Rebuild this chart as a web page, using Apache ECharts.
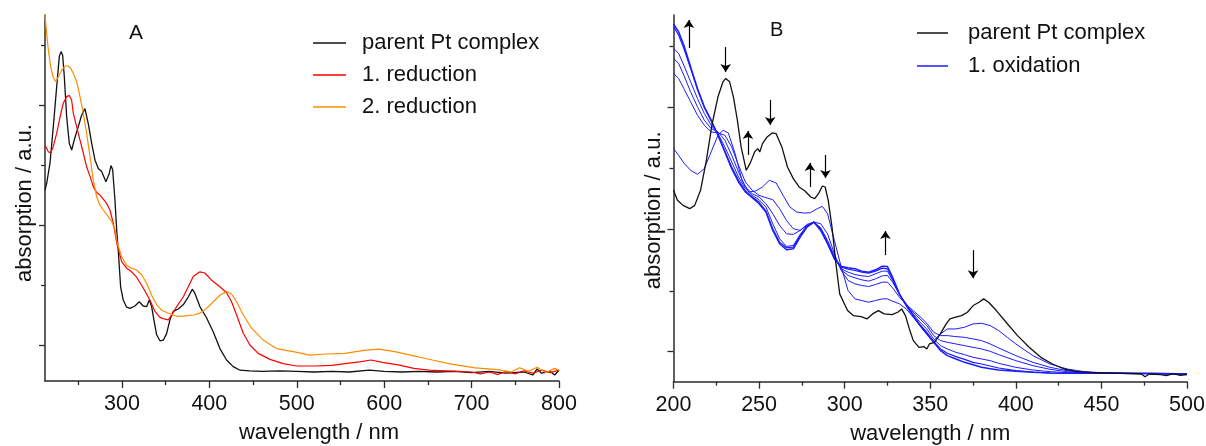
<!DOCTYPE html>
<html>
<head>
<meta charset="utf-8">
<script src="https://cdn.jsdelivr.net/npm/echarts@6.0.0/dist/echarts.min.js"></script>
<style>
  html, body { margin: 0; padding: 0; background: #fff; }
  #chart { width: 1206px; height: 446px; }
</style>
</head>
<body>
<div id="chart"></div>
<script>
// panel A: UV-vis of parent complex and its reductions (absorption, a.u.)
var parentA = [[212,0.458],[214,0.47],[217.7,0.503],[221.5,0.564],[225.4,0.631],[228.4,0.681],[230.3,0.689],[232.2,0.683],[234.1,0.647],[236.8,0.58],[239.8,0.536],[242.5,0.525],[245.5,0.542],[250.1,0.564],[253.9,0.583],[257.7,0.594],[259.6,0.592],[261.5,0.569],[265.4,0.536],[269.2,0.508],[273,0.494],[276.8,0.489],[281.7,0.472],[285.5,0.486],[287.5,0.499],[289.4,0.492],[292,0.442],[294,0.392],[295.8,0.358],[298.5,0.297],[301.5,0.275],[305.4,0.263],[309.2,0.261],[314.9,0.265],[319.8,0.272],[324.4,0.265],[328.3,0.264],[331.3,0.275],[334,0.264],[336.6,0.242],[339.7,0.217],[343.5,0.207],[347.3,0.208],[351.1,0.219],[354.9,0.242],[358.7,0.256],[364.4,0.26],[370.1,0.267],[375.9,0.28],[380.5,0.293],[383.5,0.286],[389.2,0.264],[396.9,0.245],[404.4,0.222],[412.1,0.194],[419.7,0.175],[427.3,0.164],[435,0.158],[446,0.157],[460,0.156],[480,0.157],[500,0.156],[520,0.155],[540,0.156],[560,0.155],[583,0.158],[600,0.156],[620,0.155],[640,0.156],[660,0.155],[680,0.156],[700,0.154],[720,0.156],[740,0.153],[760,0.155],[770,0.15],[775,0.16],[780,0.153],[790,0.156],[795,0.15],[800,0.158]];
var red1A = [[212,0.533],[215.8,0.522],[218.5,0.52],[221.5,0.531],[225.4,0.553],[229.2,0.58],[232.9,0.603],[236.8,0.614],[239.8,0.616],[242.5,0.608],[244.4,0.586],[248.2,0.564],[252,0.542],[255.8,0.52],[259.6,0.497],[263.5,0.481],[267.2,0.464],[271.1,0.454],[274.9,0.45],[278.7,0.443],[282.5,0.436],[286.3,0.425],[290.1,0.403],[294,0.37],[299.7,0.339],[305.4,0.328],[311.1,0.322],[316.8,0.313],[324.4,0.295],[332,0.275],[337.8,0.256],[343.5,0.246],[349.2,0.243],[353,0.242],[356.9,0.25],[362.6,0.264],[370.1,0.28],[375.9,0.297],[381.6,0.314],[389.2,0.322],[394.9,0.32],[402.5,0.308],[412.1,0.297],[419.7,0.287],[425.4,0.272],[431.2,0.25],[438.7,0.22],[446.4,0.2],[455.9,0.186],[469.3,0.176],[484.5,0.169],[500,0.165],[520,0.165],[540,0.166],[555,0.169],[572,0.172],[585,0.175],[598,0.171],[616,0.167],[634,0.161],[651,0.158],[670,0.157],[686,0.156],[700,0.155],[710,0.152],[720,0.155],[730,0.151],[740,0.156],[750,0.152],[760,0.157],[770,0.153],[780,0.158],[790,0.154],[800,0.158]];
var red2A = [[212,0.75],[213.9,0.719],[215.8,0.692],[218.5,0.664],[221.5,0.645],[224.6,0.639],[227.2,0.647],[231.1,0.658],[234.9,0.665],[238.6,0.665],[241.4,0.661],[244.4,0.653],[248.2,0.639],[252,0.614],[255.8,0.586],[259.6,0.553],[263.5,0.514],[267.2,0.475],[271.1,0.447],[274.9,0.433],[278.7,0.425],[284.4,0.414],[288.3,0.406],[292,0.392],[294.7,0.37],[299.7,0.347],[305.4,0.333],[311.1,0.328],[316.8,0.325],[322.5,0.317],[328.3,0.303],[334,0.283],[339.7,0.267],[345.4,0.258],[353,0.253],[362.6,0.248],[370.1,0.248],[381.6,0.25],[389.2,0.253],[396.9,0.261],[404.5,0.272],[412.1,0.283],[419.7,0.289],[425.4,0.285],[431.2,0.272],[438.8,0.25],[448.3,0.228],[461.7,0.208],[476.9,0.194],[496,0.189],[515,0.183],[534,0.185],[555,0.186],[577,0.191],[594,0.193],[612,0.189],[634,0.182],[655,0.175],[677,0.168],[704,0.162],[730,0.159],[745,0.155],[755,0.162],[765,0.156],[775,0.163],[785,0.154],[795,0.161],[800,0.158]];

// panel A ticks
var ticksA_major = [300, 400, 500, 600, 700, 800];
var ticksA_minor = [250, 350, 450, 550, 650, 750];
var yTicksA_major = [0.2, 0.4, 0.6];
var yTicksA_minor = [0.3, 0.5, 0.7];

// panel B: parent complex and spectra during 1. oxidation
var parentB = [[200,63],[202.3,60],[205.6,58.5],[209.5,57.5],[212.4,58.5],[215.8,63],[219.2,72],[222.6,83],[226,91],[228.9,95.5],[230.5,96.5],[232.8,95.5],[235,91],[237.3,84],[239.5,76],[242.5,69],[244.7,71],[247.4,74.5],[249.2,75.5],[250.4,74.5],[252,77],[254.7,79],[257.6,80.2],[259.9,80],[263.3,76],[266.6,70],[270,66.5],[273.4,64],[276.8,62.8],[280.2,61],[282.5,60.5],[284.7,62],[287,64.3],[288.6,64],[290.4,60],[292.6,52],[294.9,41],[297.1,32],[299.4,29.5],[301.7,27],[305,25.5],[309.6,25.2],[313,24.5],[316.3,26],[319.7,27],[323.1,26],[327.6,25.8],[331,26.5],[333.3,27.5],[335.5,25.5],[337.8,21.5],[340.1,18],[343.4,16],[346.4,16.2],[348,15.5],[349.5,17],[352.5,17.5],[355.9,20],[359.3,23],[361.5,24.5],[364.9,25],[368.3,25.5],[371.7,26.5],[375.1,28.5],[378.5,29.5],[381.2,30.5],[384.1,29.5],[388.6,27],[394.3,23.5],[401,19.5],[407.8,16],[414.6,13],[421.4,11],[428.2,9.5],[434.9,8.8],[444,8.5],[450.7,8.3],[462,8.2],[473.3,8],[475.5,7.2],[478,8],[484.7,7.8],[488,7.5],[492,8.1],[496,7.6],[500,7.8]];
var ox1 = [[200,75.5],[203,73.5],[206,71.2],[210,69],[214,67.8],[218,69.5],[222,74.5],[226,79.5],[229,81],[232,80.2],[236,74],[240,66],[244,62.5],[248,62.8],[252,64],[256,66],[260,65.2],[264,61.5],[268,58],[272,56.5],[276,56.2],[280,56.3],[284,57.5],[287,58.2],[290,56],[294,48],[298,40],[302,33],[306,30.5],[310,30],[314,29.5],[318,30],[322,30.5],[325,30.5],[328,29.8],[332,29],[336,27.5],[340,25],[344,22.5],[348,20],[352,18],[356,20],[360,21.5],[365,21.5],[370,22],[375,23],[380,23.2],[385,22.5],[390,21],[395,19],[400,17],[410,13.5],[420,11],[430,9.5],[440,8.7],[450,8.4],[470,8.2],[500,8]];
var wlOx = [200,203,206,210,214,218,222,226,230,234,238,242,246,250,254,258,262,266,270,274,278,282,286,290,294,298,302,306,310,314,318,322,325,328,332,336,340,344,348,352,356,360,365,370,375,380,385,390,400,410,420,430,440,460,480,500];
var ox2 = [98,96.5,93.5,89.5,85.5,82.5,80.5,80.2,79.5,76,70.5,65.5,63,61.5,60.8,60.2,57.5,54,51.5,51,52.5,53.5,53,50,44,39,36,35,34.5,34.2,34.8,35.5,35.5,33.8,31,28.8,27,25.2,23.2,20.5,19.5,19.5,19.2,19,18.5,18,17,15.8,13.5,11.5,10,9,8.4,8.2,8.1,8];
var ox3 = [102.5,101,97.5,92.5,88,84,81.5,80.5,78,73.5,68.5,64,62,61,59,56,52.5,50,49.8,51,52.8,53.5,51.8,48,43.2,39.2,37.5,36.8,36.2,35.8,36.5,37.4,37.5,35.5,31.8,29,26.5,24.5,22.5,19.5,18,17.5,17,16.5,16,15.5,14.8,13.8,12,10.5,9.4,8.7,8.3,8.2,8.1,8];
var ox4 = [105.5,104,100.5,95.5,90.5,86,82.5,80,76,71.5,67,63.5,61.5,60.2,58,53,48.5,46.2,46.5,49.8,52.4,53.5,51.5,47.5,43,39.5,38.5,37.8,37.4,37.2,38,38.8,38.8,36,31.8,28.8,26,23.5,21.5,18.5,16.5,15.5,14.5,13.8,13,12.5,12,11.2,10,9.2,8.7,8.4,8.2,8.2,8.1,8];
var ox5 = [112,109.5,105.5,99.5,93.2,87.8,83.8,79.5,74.8,70,66,62.8,61,59.5,56.8,51.5,47.5,45.8,46,49.5,52.2,53.5,51.2,47.2,42.5,40,39.4,39,38.5,38.2,38.8,39.7,39.5,36.5,31.8,28.5,25.5,22.8,20.5,17.8,15.5,14.2,13.2,12.4,11.5,11,10.4,9.8,9,8.6,8.3,8.2,8.2,8.2,8.1,8];
var ox6 = [112.8,110.5,106.5,100,93.5,88,84,79.5,74.5,69.5,65.5,62.5,60.8,59,56.5,51,47,45.2,45.5,49,52,53.5,51,47,42.5,40.2,39.8,39.5,38.8,38.5,39.2,40.3,40.2,37,32,28.5,25.5,22.5,20,17.5,15,13.5,12.5,11.5,10.8,10,9.6,9.2,8.8,8.5,8.3,8.2,8.2,8.2,8.2,8];

// arrows in panel B: [wavelength, from, to]
var arrowsB = [[209,105.6,114],[230.5,105.9,98.4],[243.5,73.6,80.8],[256.5,90.1,82.6],[279.7,64,71.2],[288.8,73.6,66.7],[323.8,43.6,50.8],[375,45.1,36.7]];

var yTicksB_major = [14.7, 51.3, 87.9];
var yTicksB_minor = [32.9, 69.6, 106.2];

var FONT = 'Liberation Sans, Arial, sans-serif';
var AXIS_COLOR = '#2b2b2b';

function pairs(xs, ys) {
  return xs.map(function (x, i) { return [x, ys[i]]; });
}

function line(name, data, color, width, gi) {
  return {
    name: name, type: 'line', data: data,
    xAxisIndex: gi * 2, yAxisIndex: gi * 2,
    symbol: 'none', smooth: false,
    lineStyle: { color: color, width: width },
    itemStyle: { color: color },
    emphasis: { disabled: true }
  };
}

function xAxisCfg(gi, min, max, extra) {
  var base = {
    type: 'value', gridIndex: gi, min: min, max: max, position: 'bottom',
    axisLine: { lineStyle: { color: AXIS_COLOR, width: 1.5 } },
    axisTick: { length: 7, lineStyle: { color: AXIS_COLOR, width: 1.3 } },
    axisLabel: { color: '#111', fontSize: 21.5, fontFamily: FONT, margin: 12 },
    splitLine: { show: false }
  };
  return Object.assign(base, extra);
}

function yAxisCfg(gi, min, max, ticks, len, extra) {
  var base = {
    type: 'value', gridIndex: gi, min: min, max: max, position: 'left',
    axisLine: { show: true, lineStyle: { color: AXIS_COLOR, width: 1.5 } },
    axisTick: { show: true, length: len, customValues: ticks, lineStyle: { color: AXIS_COLOR, width: 1.3 } },
    axisLabel: { show: false },
    splitLine: { show: false }
  };
  return Object.assign(base, extra || {});
}

var nameStyle = { color: '#111', fontSize: 22, fontFamily: FONT };
var legendText = { fontSize: 22, lineHeight: 22, color: '#111', fontFamily: FONT };

var myChart = echarts.init(document.getElementById('chart'));

var option = {
  animation: false,
  backgroundColor: '#fff',
  textStyle: { fontFamily: FONT },
  title: [
    { text: 'A', left: 129, top: 23, padding: 0, textStyle: { fontSize: 21, fontWeight: 'normal', color: '#111', fontFamily: FONT } },
    { text: 'B', left: 770, top: 20, padding: 0, textStyle: { fontSize: 20, fontWeight: 'normal', color: '#111', fontFamily: FONT } }
  ],
  legend: [
    {
      orient: 'vertical', left: 313, top: 32, padding: 0, selectedMode: false,
      icon: 'rect', itemWidth: 33, itemHeight: 1.5, itemGap: 10,
      data: ['parent Pt complex', '1. reduction', '2. reduction'],
      textStyle: Object.assign({ padding: [0, 0, 0, 11] }, legendText)
    },
    {
      orient: 'vertical', left: 917, top: 22, padding: 0, selectedMode: false,
      icon: 'rect', itemWidth: 31, itemHeight: 1.5, itemGap: 11,
      data: ['parent Pt complex', '1. oxidation'],
      textStyle: Object.assign({ padding: [0, 0, 0, 15] }, legendText)
    }
  ],
  grid: [
    { left: 45, top: 15, width: 514, height: 366, outerBoundsMode: 'none' },
    { left: 673.5, top: 15, width: 513.5, height: 366.7, outerBoundsMode: 'none' }
  ],
  xAxis: [
    xAxisCfg(0, 212, 800, {
      name: 'wavelength / nm', nameLocation: 'middle', nameGap: 36,
      nameTextStyle: Object.assign({ padding: [5, 0, 0, 34] }, nameStyle),
      axisTick: { length: 7, customValues: ticksA_major, lineStyle: { color: AXIS_COLOR, width: 1.3 } },
      axisLabel: { color: '#111', fontSize: 21.5, fontFamily: FONT, margin: 12, customValues: ticksA_major }
    }),
    xAxisCfg(0, 212, 800, {
      axisLine: { show: false },
      axisTick: { length: 4, customValues: ticksA_minor, lineStyle: { color: AXIS_COLOR, width: 1.3 } },
      axisLabel: { show: false }
    }),
    xAxisCfg(1, 200, 500, {
      interval: 50,
      name: 'wavelength / nm', nameLocation: 'middle', nameGap: 36,
      nameTextStyle: Object.assign({ padding: [5, 0, 0, 0] }, nameStyle),
      minorTick: { show: true, splitNumber: 2, length: 4, lineStyle: { color: AXIS_COLOR, width: 1.3 } }
    }),
    xAxisCfg(1, 200, 500, { show: false })
  ],
  yAxis: [
    yAxisCfg(0, 0.14, 0.75, yTicksA_major, 6, {
      name: 'absorption / a.u.', nameLocation: 'middle', nameGap: 9,
      nameTextStyle: Object.assign({ padding: [0, 10, 0, 0] }, nameStyle)
    }),
    yAxisCfg(0, 0.14, 0.75, yTicksA_minor, 4, { axisLine: { show: false } }),
    yAxisCfg(1, 5.7, 115.5, yTicksB_major, 6, {
      name: 'absorption / a.u.', nameLocation: 'middle', nameGap: 9,
      nameTextStyle: Object.assign({ padding: [0, 24, 0, 0] }, nameStyle)
    }),
    yAxisCfg(1, 5.7, 115.5, yTicksB_minor, 4, { axisLine: { show: false } })
  ],
  series: [
    line('parent Pt complex', parentA, '#111', 1.3, 0),
    line('1. reduction', red1A, '#ff0000', 1.2, 0),
    line('2. reduction', red2A, '#ff8c00', 1.2, 0),
    line('1. oxidation', ox1, '#1c1cff', 1.0, 1),
    line('1. oxidation', pairs(wlOx, ox2), '#1c1cff', 1.0, 1),
    line('1. oxidation', pairs(wlOx, ox3), '#1c1cff', 1.0, 1),
    line('1. oxidation', pairs(wlOx, ox4), '#1c1cff', 1.0, 1),
    line('1. oxidation', pairs(wlOx, ox5), '#1c1cff', 1.2, 1),
    line('1. oxidation', pairs(wlOx, ox6), '#1c1cff', 1.5, 1),
    Object.assign(line('parent Pt complex', parentB, '#111', 1.3, 1), {
      markLine: {
        silent: true,
        symbol: ['none', 'arrow'],
        symbolSize: 8,
        label: { show: false },
        lineStyle: { color: '#000', width: 1.2, type: 'solid' },
        emphasis: { disabled: true },
        data: arrowsB.map(function (a) {
          return [{ coord: [a[0], a[1]] }, { coord: [a[0], a[2]] }];
        })
      }
    })
  ]
};

myChart.setOption(option);
</script>
</body>
</html>
